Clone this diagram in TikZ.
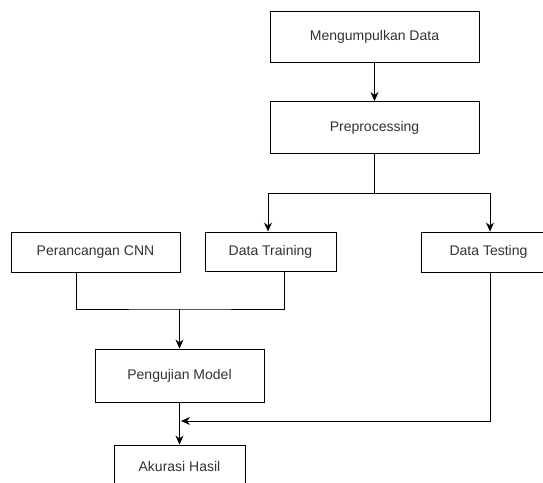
\documentclass[tikz,border=0pt]{standalone}
\usepackage{fontspec}
\setmainfont{Liberation Sans}
\usetikzlibrary{arrows.meta}
\definecolor{txtgray}{HTML}{333333}
\tikzset{every picture/.style={line width=0.9pt}}

\begin{document}
\begin{tikzpicture}[x=1pt,y=-1pt,
		every node/.style={shape=rectangle, draw=black, align=center,
			fill=white, font=\fontsize{14}{16}\selectfont, text=txtgray, inner sep=0pt},
		arrow/.style={-{Stealth[length=9pt,width=8pt]}, draw=black}
	]
	\useasboundingbox (0,0) rectangle (543,482);
	\clip (0,0) rectangle (543,482);
	\fill[white] (0,0) rectangle (543,482);
	% boxes
	\node[minimum width=209, minimum height=51] (kumpul) at (374.5,36.5) {Mengumpulkan Data};
	\node[minimum width=209, minimum height=52] (prepro) at (374.5,127.5) {Preprocessing};
	\node[minimum width=169, minimum height=40] (cnn) at (95.5,252) {Perancangan CNN};
	\node[minimum width=131, minimum height=39] (training) at (270.5,251.5) {Data Training};
	\node[minimum width=135, minimum height=40] (testing) at (488.5,252) {Data Testing};
	\node[minimum width=169, minimum height=53] (uji) at (179.5,375.5) {Pengujian Model};
	\node[minimum width=131, minimum height=53, text depth=0pt] (akurasi) at (179.5,471.5) {\raisebox{10pt}{Akurasi Hasil}};
	% connectors
	\coordinate (bagi) at (374.5,193);
	\coordinate (gabung) at (179.5,309);
	\coordinate (masuk) at (181,421);
	\draw[arrow] (kumpul) -- (prepro);
	\draw (prepro.south) -- (bagi);
	\draw[arrow] (bagi) -| ([xshift=-2.5pt]training.north);
	\draw[arrow] (bagi) -| ([xshift=1.5pt]testing.north);
	\draw ([xshift=-19.5pt]cnn.south) |- (gabung) -| ([xshift=13.5pt]training.south);
	\draw[arrow] (gabung) -- (uji);
	\draw[arrow] (uji) -- (akurasi);
	\draw[arrow] ([xshift=1.5pt]testing.south) |- (masuk);
\end{tikzpicture}
\end{document}
